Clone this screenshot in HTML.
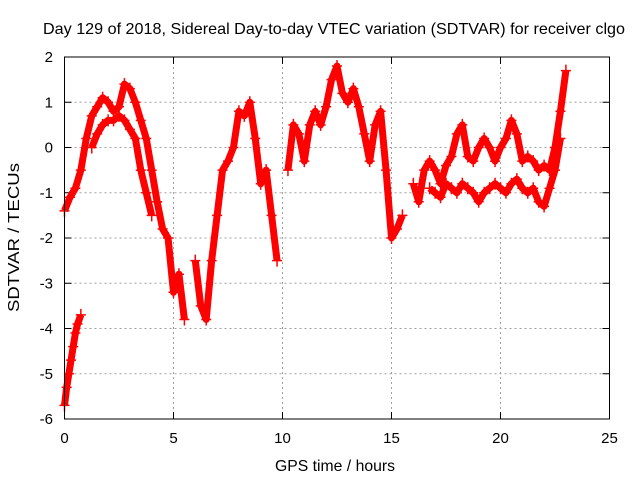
<!DOCTYPE html>
<html><head><meta charset="utf-8"><style>
body{margin:0;background:#fff}
svg{display:block;font-family:"Liberation Sans",sans-serif}
</style></head><body>
<svg id="chart" width="640" height="480" viewBox="0 0 640 480">
<rect width="640" height="480" fill="#fff"/>
<text x="43" y="34" font-size="16" textLength="582" lengthAdjust="spacingAndGlyphs" fill="#000">Day 129 of 2018, Sidereal Day-to-day VTEC variation (SDTVAR) for receiver clgo</text>
<text x="275" y="471" font-size="16" textLength="120" lengthAdjust="spacingAndGlyphs">GPS time / hours</text>
<text transform="translate(19,312) rotate(-90)" font-size="16" textLength="149" lengthAdjust="spacingAndGlyphs">SDTVAR / TECUs</text>
<g id="grid"></g><g id="marks"></g>
<rect x="64.5" y="57" width="545" height="362" fill="none" stroke="#000" stroke-width="1"/>
</svg>
<script>
const xTicks=[0,5,10,15,20,25];
const yTicks=[2,1,0,-1,-2,-3,-4,-5,-6];
const tMain=[0,0.25,0.5,0.75,1,1.25,1.5,1.75,2,2.25,2.5,2.75,3,3.25,3.5,3.75,4,4.25,4.5,4.75,5,5.25,5.5];
const vMain=[-1.4,-1.1,-0.9,-0.5,0.2,0.7,0.9,1.1,1.0,0.8,0.9,1.4,1.3,1.0,0.6,0.2,-0.5,-1.2,-1.8,-2.0,-3.2,-2.8,-3.8];
const tMid=[6,6.25,6.5,6.75,7,7.25,7.5,7.75,8,8.25,8.5,8.75,9,9.25,9.5,9.75];
const vMid=[-2.5,-3.5,-3.8,-2.5,-1.5,-0.5,-0.3,0,0.8,0.7,1.0,0.2,-0.8,-0.5,-1.5,-2.5];
const tNoon=[10.25,10.5,10.75,11,11.25,11.5,11.75,12,12.25,12.5,12.75,13,13.25,13.5,13.75,14,14.25,14.5,14.75,15,15.25,15.5];
const vNoon=[-0.5,0.5,0.3,-0.3,0.5,0.8,0.5,0.9,1.5,1.8,1.2,1.0,1.3,0.9,0.3,-0.3,0.5,0.8,-0.5,-2.0,-1.8,-1.5];
const tLate=[16,16.25,16.5,16.75,17,17.25,17.5,17.75,18,18.25,18.5,18.75,19,19.25,19.5,19.75,20,20.25,20.5,20.75,21,21.25,21.5,21.75,22,22.25,22.5,22.75,23];
const vLate=[-0.8,-1.2,-0.5,-0.3,-0.5,-0.8,-0.4,-0.2,0.3,0.5,-0.2,-0.3,0,0.2,0,-0.3,0,0.2,0.6,0.3,-0.3,-0.2,-0.3,-0.5,-0.4,-0.5,0,0.8,1.7];
const tLow1=[1.25,1.5,1.75,2,2.25,2.5,2.75,3,3.25,3.5,3.75,4];
const vLow1=[0,0.3,0.5,0.6,0.6,0.7,0.6,0.4,0.2,-0.5,-1.0,-1.5];
const tLow2=[16.75,17,17.25,17.5,17.75,18,18.25,18.5,18.75,19,19.25,19.5,19.75,20,20.25,20.5,20.75,21,21.25,21.5,21.75,22,22.25,22.5,22.75];
const vLow2=[-0.9,-1.0,-1.1,-0.8,-0.9,-1.0,-0.8,-0.9,-1.0,-1.2,-1.0,-0.9,-0.8,-0.9,-1.0,-0.8,-0.7,-0.9,-1.0,-0.9,-1.2,-1.3,-0.9,-0.5,0.2];
const tStart=[0,0.1,0.2,0.3,0.4,0.5,0.6,0.75];
const vStart=[-5.7,-5.3,-5.0,-4.7,-4.4,-4.1,-3.9,-3.7];
const X=t=>64.5+t*(545/25), Y=v=>57+(2-v)*(362/8);
const NS="http://www.w3.org/2000/svg";
const g=document.getElementById('grid'), m=document.getElementById('marks');
function el(n,a,p){const e=document.createElementNS(NS,n);for(const k in a)e.setAttribute(k,a[k]);p.appendChild(e);return e;}
xTicks.forEach(t=>{
  if(t>0&&t<25){const l=el('line',{x1:X(t),x2:X(t),y1:57,y2:419,stroke:'#a0a0a0','stroke-dasharray':'2,3'},g);
  
  }
  el('line',{x1:X(t),x2:X(t),y1:419,y2:412,stroke:'#000'},g);
  el('line',{x1:X(t),x2:X(t),y1:57,y2:64,stroke:'#000'},g);
  const tx=el('text',{x:X(t),y:443,'font-size':15,'text-anchor':'middle'},g);tx.textContent=t;
  
  
});
yTicks.forEach(v=>{
  if(v<2&&v>-6){const l=el('line',{x1:64.5,x2:609.5,y1:Y(v),y2:Y(v),stroke:'#a0a0a0','stroke-dasharray':'2,3'},g);
  
  }
  el('line',{x1:64.5,x2:71.5,y1:Y(v),y2:Y(v),stroke:'#000'},g);
  el('line',{x1:602.5,x2:609.5,y1:Y(v),y2:Y(v),stroke:'#000'},g);
  const tx=el('text',{x:53,y:Y(v)+5,'font-size':15,'text-anchor':'end'},g);tx.textContent=v;
  
  
});
const series=[[tStart,vStart],[tMain,vMain],[tMid,vMid],[tNoon,vNoon],[tLate,vLate],[tLow1,vLow1],[tLow2,vLow2]];
series.forEach(([ts,vs])=>{
  const pl=el('polyline',{points:ts.map((t,i)=>X(t)+','+Y(vs[i])).join(' '),fill:'none',stroke:'#f00','stroke-width':7,'stroke-linejoin':'round'},m);
  
  
  ts.forEach((t,i)=>{
    const x=X(t),y=Y(vs[i]);
    const p=el('path',{d:`M${x-5},${y}h10M${x},${y-6}v12`,stroke:'#f00','stroke-width':1.5},m);
    
    
  });
});
</script>
</body></html>
